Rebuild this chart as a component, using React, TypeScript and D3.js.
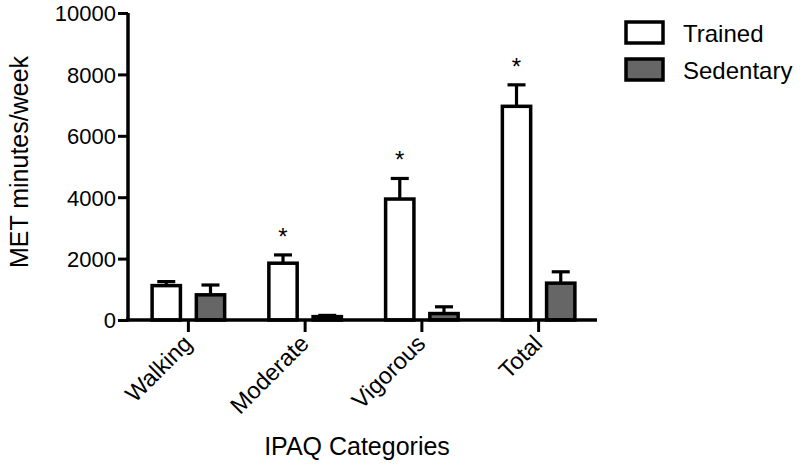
import React, { useEffect, useRef } from 'react';
import * as d3 from 'd3';

const categories = ['Walking', 'Moderate', 'Vigorous', 'Total'];
const seriesNames = ['Trained', 'Sedentary'];
const trainedMean = [1120, 1850, 3940, 6960];
const trainedErr = [130, 270, 670, 700];
const sedentaryMean = [820, 110, 210, 1200];
const sedentaryErr = [320, 40, 220, 370];
const significant = [false, true, true, true];
const yTicks = [0, 2000, 4000, 6000, 8000, 10000];

const FONT = 'Arial, "Liberation Sans", Helvetica, sans-serif';
const FILLS = ['#ffffff', '#666666'];

export default function App() {
  const svgRef = useRef<SVGSVGElement>(null);

  useEffect(() => {
    const width = 800;
    const height = 464;
    const svg = d3.select(svgRef.current).attr('width', width).attr('height', height);
    svg.selectAll('*').remove();

    const x = d3.scaleBand<string>().domain(categories).range([130, 597]).padding(0);
    const xSub = d3.scaleBand<string>().domain(seriesNames).range([0, x.bandwidth()])
      .paddingInner(0.36).paddingOuter(0.5);
    const y = d3.scaleLinear().domain([0, 10000]).range([320, 13]);

    const rows = categories.map((c, i) => ({
      cat: c,
      sig: significant[i],
      vals: [
        { s: 'Trained', v: trainedMean[i], e: trainedErr[i], fill: FILLS[0] },
        { s: 'Sedentary', v: sedentaryMean[i], e: sedentaryErr[i], fill: FILLS[1] },
      ],
    }));

    const g = svg.append('g');

    // error bars (upper only), drawn under bars
    rows.forEach(r => {
      r.vals.forEach(d => {
        const cx = (x(r.cat) as number) + (xSub(d.s) as number) + xSub.bandwidth() / 2;
        g.append('line').attr('x1', cx).attr('x2', cx).attr('y1', y(d.v)).attr('y2', y(d.v + d.e))
          .attr('stroke', '#000').attr('stroke-width', 3.2);
        g.append('line').attr('x1', cx - 9).attr('x2', cx + 9).attr('y1', y(d.v + d.e)).attr('y2', y(d.v + d.e))
          .attr('stroke', '#000').attr('stroke-width', 3.2);
      });
    });

    // bars
    rows.forEach(r => {
      g.selectAll(null).data(r.vals).join('rect')
        .attr('x', d => (x(r.cat) as number) + (xSub(d.s) as number))
        .attr('y', d => y(d.v))
        .attr('width', xSub.bandwidth())
        .attr('height', d => y(0) - y(d.v))
        .attr('fill', d => d.fill)
        .attr('stroke', '#000').attr('stroke-width', 3.5);
    });

    // significance stars
    rows.filter(r => r.sig).forEach(r => {
      const d = r.vals[0];
      const cx = (x(r.cat) as number) + (xSub(d.s) as number) + xSub.bandwidth() / 2;
      g.append('text').attr('x', cx).attr('y', y(d.v + d.e) - 10)
        .attr('text-anchor', 'middle').attr('font-family', FONT).attr('font-size', 24)
        .text('*');
    });

    // y axis
    const yAxis = svg.append('g').attr('transform', 'translate(128,0)')
      .call(d3.axisLeft(y).tickValues(yTicks).tickFormat(d3.format('d')).tickSize(10).tickPadding(2));
    yAxis.select('.domain').attr('stroke-width', 3.5).attr('d', `M0,${y(10000)}V${y(0) + 1.5}`);
    yAxis.selectAll('.tick line').attr('stroke-width', 3);
    yAxis.selectAll('.tick text').attr('font-family', FONT).attr('font-size', 22).attr('fill', '#000')
      .attr('dy', '0.36em');

    // x axis
    const xAxis = svg.append('g').attr('transform', 'translate(0,320)')
      .call(d3.axisBottom(x).tickSize(12).tickFormat(() => ''));
    xAxis.select('.domain').attr('stroke-width', 3.5).attr('d', 'M126,0H597');
    xAxis.selectAll('.tick line').attr('stroke-width', 3);
    xAxis.selectAll('.tick').append('text')
      .attr('transform', 'translate(5,25) rotate(-45)')
      .attr('text-anchor', 'end').attr('fill', '#000')
      .attr('font-family', FONT).attr('font-size', 23.5)
      .text(d => d as string);

    // axis titles
    svg.append('text').attr('transform', 'rotate(-90)').attr('x', -162).attr('y', 28)
      .attr('text-anchor', 'middle').attr('font-family', FONT).attr('font-size', 25)
      .text('MET minutes/week');
    svg.append('text').attr('x', 357).attr('y', 455)
      .attr('text-anchor', 'middle').attr('font-family', FONT).attr('font-size', 25)
      .text('IPAQ Categories');

    // legend
    const legend = svg.append('g').attr('transform', 'translate(626,22)');
    seriesNames.forEach((s, i) => {
      const row = legend.append('g').attr('transform', `translate(0,${i * 37})`);
      row.append('rect').attr('width', 37).attr('height', 21)
        .attr('fill', FILLS[i]).attr('stroke', '#000').attr('stroke-width', 3.5);
      row.append('text').attr('x', 57).attr('y', 20)
        .attr('font-family', FONT).attr('font-size', 24).text(s);
    });
  }, []);

  return (
    <div style={{ position: 'absolute', left: 0, top: 0 }}>
      <svg ref={svgRef} style={{ display: 'block' }} />
    </div>
  );
}
